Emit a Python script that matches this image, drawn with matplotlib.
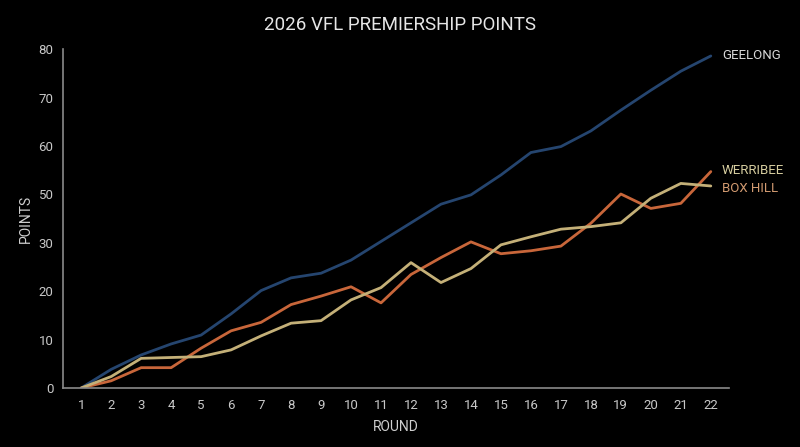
import matplotlib
matplotlib.use("Agg")
import matplotlib.pyplot as plt
import numpy as np

rounds = list(range(1, 23))
geelong = [0, 4.4, 7.8, 10.4, 12.5, 17.5, 23.0, 26.0, 27.1, 30.2, 34.6,
           39.0, 43.4, 45.6, 50.3, 55.6, 57.0, 60.7, 65.6, 70.3, 74.8, 78.4]
werribee = [0, 1.7, 4.8, 4.8, 9.4, 13.5, 15.5, 19.7, 21.7, 23.9, 20.1,
            26.8, 30.8, 34.5, 31.7, 32.4, 33.5, 38.9, 45.8, 42.4, 43.6, 51.1]
box_hill = [0, 2.7, 7.0, 7.2, 7.4, 9.0, 12.3, 15.3, 15.9, 20.8, 23.7,
            29.6, 24.9, 28.2, 33.8, 35.7, 37.5, 38.1, 39.0, 44.8, 48.3, 47.7]
ytick_labels = ["0", "10", "20", "30", "50", "60", "70", "80"]
series_names = ["GEELONG", "WERRIBEE", "BOX HILL"]

line_colors = ["#25456f", "#c8663a", "#c4b078"]
label_colors = ["#d8d8d8", "#d6cd9f", "#d29a70"]
label_dy = [0, 1, -2]

plt.rcParams['font.family'] = ['Roboto', 'DejaVu Sans']

fig = plt.figure(figsize=(8, 4.47), dpi=100, facecolor="black")
ax = fig.add_axes([0.079, 0.132, 0.832, 0.758])
ax.set_facecolor("black")

for vals, lc in zip([geelong, werribee, box_hill], line_colors):
    ax.plot(rounds, vals, color=lc, lw=2.0, solid_joinstyle="round",
            solid_capstyle="round")

ax.set_xlim(0.4, 22.6)
ax.set_ylim(0, 80)
ax.set_xticks(rounds)
ax.set_xticklabels([str(r) for r in rounds])
ax.set_yticks(np.linspace(0, 80, len(ytick_labels)))
ax.set_yticklabels(ytick_labels)
ax.tick_params(colors="#c8c8c8", labelsize=9.5, length=0)
ax.tick_params(axis="x", pad=8)
ax.tick_params(axis="y", pad=7)

for s in ["top", "right"]:
    ax.spines[s].set_visible(False)
for s in ["left", "bottom"]:
    ax.spines[s].set_color("#8a8a8a")
    ax.spines[s].set_linewidth(1.2)

ax.set_xlabel("ROUND", color="#cfcfcf", fontsize=10)
ax.xaxis.set_label_coords(0.5, -0.094)
ax.set_ylabel("POINTS", color="#cfcfcf", fontsize=10)
ax.yaxis.set_label_coords(-0.046, 0.5)

fig.suptitle("2026 VFL PREMIERSHIP POINTS", color="#e6e6e6", fontsize=13.5,
             y=0.965)

ends = [geelong[-1], werribee[-1], box_hill[-1]]
for name, v, c, dy in zip(series_names, ends, label_colors, label_dy):
    ax.annotate(name, xy=(rounds[-1], v), xytext=(8, dy),
                textcoords="offset points", color=c, fontsize=9.5,
                va="center", ha="left", annotation_clip=False)

fig.savefig("out.png", dpi=100, facecolor="black")
